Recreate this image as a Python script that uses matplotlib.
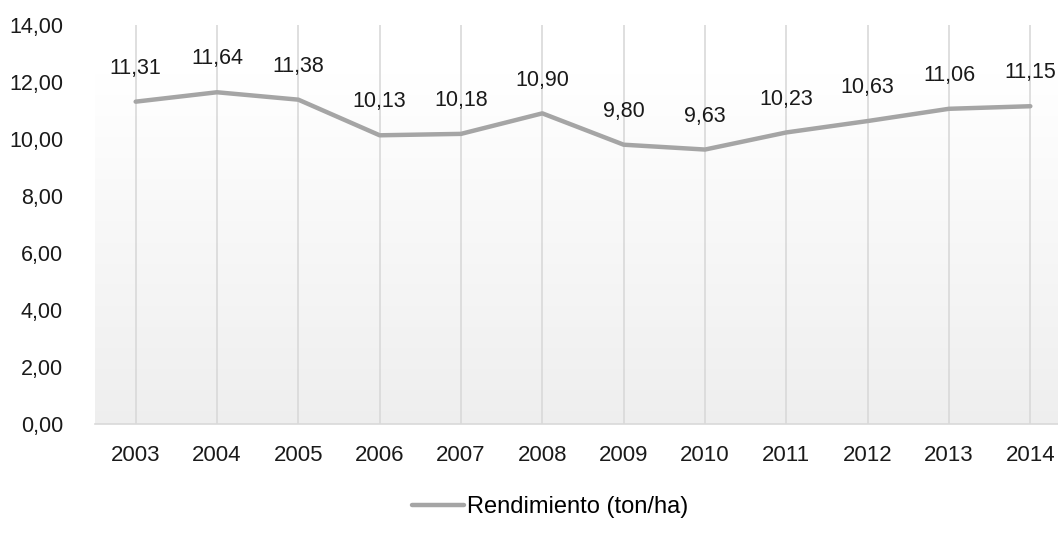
import matplotlib
matplotlib.use('Agg')
import matplotlib.pyplot as plt
import numpy as np
from matplotlib import font_manager

# Datos
years = ['2003', '2004', '2005', '2006', '2007', '2008',
         '2009', '2010', '2011', '2012', '2013', '2014']
rendimiento = [11.31, 11.64, 11.38, 10.13, 10.18, 10.90,
               9.80, 9.63, 10.23, 10.63, 11.06, 11.15]
y_ticks = [0, 2, 4, 6, 8, 10, 12, 14]

installed = {f.name for f in font_manager.fontManager.ttflist}
family = 'Liberation Sans Narrow' if 'Liberation Sans Narrow' in installed else 'Liberation Sans'
plt.rcParams['font.family'] = [family, 'DejaVu Sans']


def fmt(v):
    return f'{v:.2f}'.replace('.', ',')


W, H = 1058, 546
fig = plt.figure(figsize=(W / 100, H / 100), dpi=100)
fig.patch.set_facecolor('white')

# el área del gráfico se sale un poco por la derecha, como en el original
left, right = 95 / W, 1071 / W
bottom, top = 1 - 424 / H, 1 - 25 / H
ax = fig.add_axes([left, bottom, right - left, top - bottom])

x = np.arange(len(years))
ax.set_xlim(-0.5, len(years) - 0.5)
ax.set_ylim(0, 14)

# fondo degradado suave
grad = np.linspace(1.0, 0.935, 256).reshape(-1, 1)
ax.imshow(np.dstack([grad, grad, grad]), extent=[-0.5, len(years) - 0.5, 0, 12.3],
          aspect='auto', origin='upper', zorder=0)

for xi in x:
    ax.axvline(xi, color='#d9d9d9', lw=1.2, zorder=1)

ax.plot(x, rendimiento, color='#a5a5a5', lw=3.2, solid_capstyle='round',
        zorder=3, label='Rendimiento (ton/ha)')

for xi, v in zip(x, rendimiento):
    ax.annotate(fmt(v), (xi, v), xytext=(0, 24), textcoords='offset points',
                ha='center', va='center', fontsize=15.5, color='#1a1a1a')

ax.set_yticks(y_ticks)
ax.set_yticklabels([fmt(t) for t in y_ticks], fontsize=15.5, color='#1a1a1a')
ax.set_xticks(x)
ax.set_xticklabels(years, fontsize=16, color='#1a1a1a')
ax.tick_params(axis='both', length=0)
ax.tick_params(axis='y', pad=23)
ax.tick_params(axis='x', pad=15)

for s in ['top', 'right', 'left']:
    ax.spines[s].set_visible(False)
ax.spines['bottom'].set_color('#d9d9d9')
ax.spines['bottom'].set_linewidth(1.2)

fig.legend(loc='center', bbox_to_anchor=(0.52, 1 - 507 / H), frameon=False,
           fontsize=17, handlelength=2.2, handletextpad=0.1)

fig.savefig('out.png', dpi=100, facecolor='white')
